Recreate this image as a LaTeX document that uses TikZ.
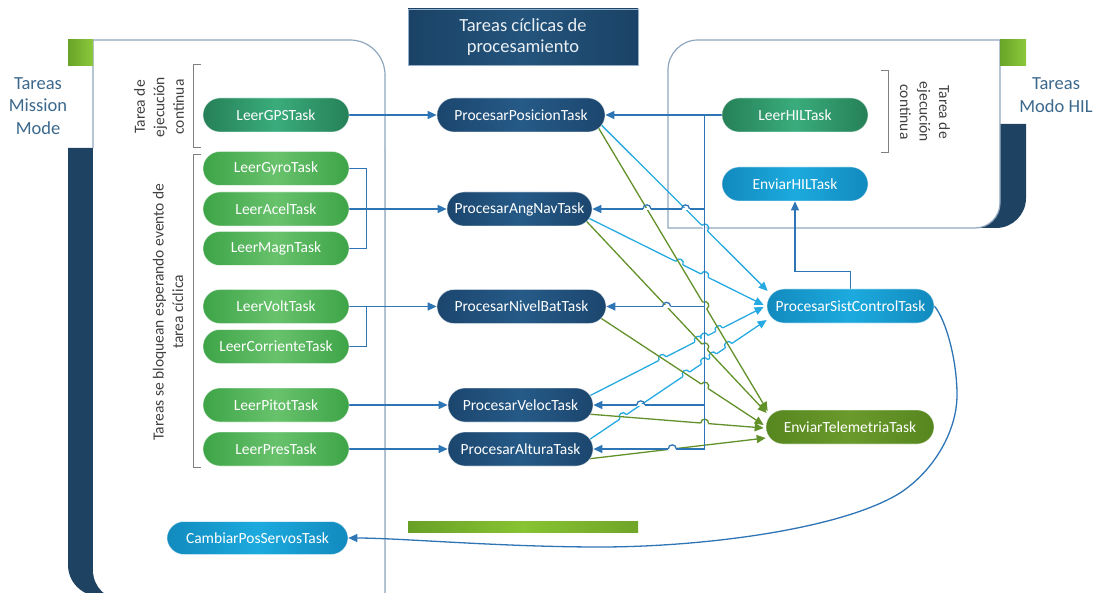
\documentclass[tikz,border=0pt]{standalone}
\usepackage{fontspec}
\setmainfont{Carlito}
\usetikzlibrary{calc,intersections,arrows.meta}

\definecolor{busblue}{RGB}{46,117,182}
\definecolor{cyanln}{RGB}{38,170,225}
\definecolor{greenln}{RGB}{98,145,42}
\definecolor{panelln}{RGB}{143,167,190}
\definecolor{bracketln}{RGB}{128,128,128}
\definecolor{labelblue}{RGB}{60,104,140}
\definecolor{labelgray}{RGB}{64,64,64}
\definecolor{lgA}{RGB}{62,164,72}
\definecolor{lgB}{RGB}{104,194,108}
\definecolor{tlA}{RGB}{38,128,88}
\definecolor{tlB}{RGB}{58,172,124}
\definecolor{dbA}{RGB}{27,70,110}
\definecolor{dbB}{RGB}{38,90,135}
\definecolor{lbA}{RGB}{18,138,190}
\definecolor{lbB}{RGB}{28,170,222}
\definecolor{olA}{RGB}{86,134,30}
\definecolor{olB}{RGB}{106,154,44}
\definecolor{bandfill}{RGB}{30,66,98}
\definecolor{sqA}{RGB}{104,164,38}
\definecolor{sqB}{RGB}{140,200,60}
\definecolor{titleA}{RGB}{26,66,102}
\definecolor{titleB}{RGB}{36,84,124}

\pgfdeclarelayer{panels}
\pgfdeclarelayer{wires}
\pgfsetlayers{panels,wires,main}

\tikzset{
  task/.style={rounded corners=17pt, minimum height=34pt, inner sep=0pt,
    text=white, draw=white, draw opacity=0.55, line width=0.7pt,
    font=\fontsize{15.5}{18}\selectfont},
  greentask/.style={task, left color=lgA, right color=lgA, middle color=lgB},
  tealtask/.style={task, left color=tlA, right color=tlA, middle color=tlB},
  navytask/.style={task, left color=dbA, right color=dbA, middle color=dbB},
  bluetask/.style={task, left color=lbA, right color=lbA, middle color=lbB},
  olivetask/.style={task, left color=olA, right color=olA, middle color=olB},
  titlebox/.style={minimum width=230pt, minimum height=56pt, inner sep=0pt,
    left color=titleA, right color=titleA, middle color=titleB,
    draw={rgb,255:red,150;green,175;blue,200}, line width=0.6pt,
    align=center, text={rgb,255:red,235;green,240;blue,245},
    font=\fontsize{18.5}{21}\selectfont},
  sidelabel/.style={align=center, text=labelblue, inner sep=0pt,
    font=\fontsize{18.5}{22.5}\selectfont},
  rotlabel/.style={align=center, text=labelgray, inner sep=0pt,
    font=\fontsize{15.5}{19.5}\selectfont},
  wire/.style={draw=busblue, line width=1.3pt},
  cyanwire/.style={draw=cyanln, line width=1.3pt},
  greenwire/.style={draw=greenln, line width=1.3pt},
  arr/.style={-{Triangle[length=9pt,width=8pt]}},
  bracket/.style={draw=bracketln, line width=1pt},
}

% line #2 jumps over line #1 with a small bridge; #2s/#2e are its end points
\newcommand\linehop[3]{%
  \path[name intersections={of=#1 and #2, name=hq, total=\hqt}] \pgfextra{\xdef\hqn{\hqt}};
  \ifnum\hqn>0
    \coordinate (hqa) at ($(hq-1)!4pt!(#2s)$);
    \coordinate (hqb) at ($(hq-1)!4pt!(#2e)$);
    \draw[white, line width=2.2pt] (hqa) -- (hqb);
    \draw[#3] (hqa) .. controls ($(hqa)!5.5pt!90:(hqb)$) and ($(hqb)!5.5pt!-90:(hqa)$) .. (hqb);
  \fi}

\begin{document}
\begin{tikzpicture}[x=1pt,y=-1pt]
\useasboundingbox (0,0) rectangle (1099,593);

% ---------- panels ----------
\begin{pgfonlayer}{panels}
\begin{scope}
\clip (0,0) rectangle (1099,593);
% mission mode panel
\fill[bandfill] (68,148) -- (68,565) .. controls (68,582.1) and (81.9,596) .. (99,596)
  -- (385,596) -- (385,148) -- cycle;
\fill[white] (93,40) -- (350,40) .. controls (369.3,40) and (385,55.7) .. (385,75)
  -- (385,600) -- (123,600) .. controls (106.4,600) and (93,586.6) .. (93,570) -- cycle;
\draw[panelln, line width=1.2pt] (93,148) -- (93,40) -- (350,40)
  .. controls (369.3,40) and (385,55.7) .. (385,75) -- (385,600);
\fill[left color=sqA, right color=sqB] (68,40) rectangle (93,66);
% HIL mode panel
\fill[bandfill] (960,124) -- (1026,124) -- (1026,198)
  .. controls (1026,214.6) and (1012.6,228) .. (996,228) -- (960,228) -- cycle;
\filldraw[fill=white, draw=panelln, line width=1.2pt] (668,228) -- (668,70)
  .. controls (668,53.4) and (681.4,40) .. (698,40) -- (1000,40) -- (1000,203)
  .. controls (1000,216.8) and (988.8,228) .. (975,228) -- cycle;
\fill[left color=sqA, right color=sqB] (1000,40) rectangle (1026,66);
% brackets
\draw[bracket] (201,65) -- (193,65) -- (193,148) -- (201,148);
\draw[bracket] (201,155) -- (193,155) -- (193,467) -- (201,467);
\draw[bracket] (881,71) -- (888,71) -- (888,153) -- (881,153);
\end{scope}
\end{pgfonlayer}

% ---------- titles and labels ----------
\node[titlebox] (title) at (523,37) {Tareas cíclicas de\\procesamiento};
\fill[left color={rgb,255:red,104;green,160;blue,38}, right color={rgb,255:red,112;green,165;blue,40},
  middle color={rgb,255:red,135;green,195;blue,50}] (408,521) rectangle (638,532);
\node[sidelabel] (lmission) at (38,106) {Tareas\\Mission\\Mode};
\node[sidelabel] (lhilmode) at (1056,95) {Tareas\\Modo HIL};
\node[rotlabel, rotate=90] (lcont) at (159,107) {Tarea de\\ejecución\\continua};
\node[rotlabel, rotate=90] (lcyc) at (168,312) {Tareas se bloquean esperando evento de\\tarea cíclica};
\node[rotlabel, rotate=-90] (rcont) at (925,112) {Tarea de\\ejecución\\continua};

% ---------- tasks ----------
\node[tealtask, minimum width=146pt]  (gps)   at (276,115)   {LeerGPSTask};
\node[greentask, minimum width=146pt] (gyro)  at (276,168.5) {LeerGyroTask};
\node[greentask, minimum width=146pt] (acel)  at (276,209)   {LeerAcelTask};
\node[greentask, minimum width=146pt] (magn)  at (276,248.5) {LeerMagnTask};
\node[greentask, minimum width=146pt] (volt)  at (276,306.5) {LeerVoltTask};
\node[greentask, minimum width=146pt] (corr)  at (276,346.5) {LeerCorrienteTask};
\node[greentask, minimum width=146pt] (pitot) at (276,405)   {LeerPitotTask};
\node[greentask, minimum width=146pt] (pres)  at (276,449)   {LeerPresTask};
\node[bluetask, minimum width=181pt, minimum height=33pt] (cps) at (257.5,538) {CambiarPosServosTask};

\node[navytask, minimum width=168pt] (pp)  at (521,115)   {ProcesarPosicionTask};
\node[navytask, minimum width=145pt] (pan) at (519.5,209) {ProcesarAngNavTask};
\node[navytask, minimum width=169pt] (pnb) at (521.5,306.5) {ProcesarNivelBatTask};
\node[navytask, minimum width=145pt] (pv)  at (520.5,405) {ProcesarVelocTask};
\node[navytask, minimum width=145pt] (pa)  at (520.5,449) {ProcesarAlturaTask};

\node[tealtask, minimum width=146pt]  (lhil) at (795,115)   {LeerHILTask};
\node[bluetask, minimum width=146pt]  (ehil) at (795,184)   {EnviarHILTask};
\node[bluetask, minimum width=167pt]  (sc)   at (850.5,306) {ProcesarSistControlTask};
\node[olivetask, minimum width=168pt] (tel)  at (850,427)   {EnviarTelemetriaTask};

% ---------- connectors ----------
\begin{pgfonlayer}{wires}
% sensor tasks feeding the cyclic tasks
\draw[wire, arr] (gps.east) -- (pp.west);
\draw[wire] (gyro.east) -- ++(17,0) |- (magn.east);
\draw[wire, arr] (acel.east) -- (pan.west);
\draw[wire, arr] (volt.east) -- (pnb.west);
\draw[wire] (corr.east) -- ++(17,0) |- (volt.east);
\draw[wire, arr] (pitot.east) -- (pv.west);
\draw[wire, arr] (pres.east) -- (pa.west);

% end points of the fan-out lines
\coordinate (c1s) at ($(pp.east)+(-4,10)$);   \coordinate (c1e) at ($(sc.west)+(1,-15)$);
\coordinate (c2s) at ($(pan.east)+(-6,8)$);   \coordinate (c2e) at ($(sc.west)+(-3,-1)$);
\coordinate (c3s) at ($(pv.east)+(-6,-8)$);   \coordinate (c3e) at ($(sc.west)+(-3,1)$);
\coordinate (c4s) at ($(pa.east)+(-6,-8)$);   \coordinate (c4e) at ($(sc.west)+(0,14)$);
\coordinate (g1s) at ($(pp.east)+(-8,11)$);   \coordinate (g1e) at ($(tel.west)+(2,-16)$);
\coordinate (g2s) at ($(pan.east)+(-8,10)$);  \coordinate (g2e) at ($(tel.west)+(1,-14)$);
\coordinate (g3s) at ($(pnb.east)+(-8,10)$);  \coordinate (g3e) at ($(tel.west)+(-2,-2)$);
\coordinate (g4s) at ($(pv.east)+(-6,9)$);    \coordinate (g4e) at ($(tel.west)+(-2,1)$);
\coordinate (g5s) at ($(pa.east)+(-6,10)$);   \coordinate (g5e) at ($(tel.west)+(0,11)$);
\foreach \q in {1,...,4} \path[name path global=c\q] (c\q s) -- (c\q e);
\foreach \q in {1,...,5} \path[name path global=g\q] (g\q s) -- (g\q e);

% HIL bus
\coordinate (bt) at ($(lhil.west)+(-17,0)$);
\coordinate (bb) at (bt |- pa.east);
\path[name path global=bus] (bt) -- (bb);
\coordinate (b1s) at (pan.east); \coordinate (b1e) at (bt |- pan.east);
\coordinate (b2s) at (pnb.east); \coordinate (b2e) at (bt |- pnb.east);
\coordinate (b3s) at (pv.east);  \coordinate (b3e) at (bt |- pv.east);
\coordinate (b4s) at (pa.east);  \coordinate (b4e) at (bt |- pa.east);
\foreach \q in {1,...,4} \path[name path global=b\q] (b\q s) -- (b\q e);

% lines into ProcesarSistControlTask
\foreach \q in {1,...,4} \draw[cyanwire, arr] (c\q s) -- (c\q e);
\foreach \q in {1,...,4}{\foreach \r in {1,...,5}{\linehop{g\r}{c\q}{cyanwire}}}
\foreach \q in {1,...,4}{\linehop{bus}{c\q}{cyanwire}}

% lines into EnviarTelemetriaTask
\foreach \q in {1,...,5} \draw[greenwire, arr] (g\q s) -- (g\q e);
\foreach \q in {1,...,4}{\linehop{bus}{g\q}{greenwire}}

% LeerHILTask feeding the cyclic tasks
\draw[wire, arr] (lhil.west) -- (pp.east);
\draw[wire] (bt) -- (bb);
\draw[wire, arr] (b1e) -- (pan.east);
\draw[wire, arr] (b2e) -- (pnb.east);
\draw[wire, arr] (b3e) -- (pv.east);
\draw[wire, arr] (b4e) -- (pa.east);
\foreach \q in {1,...,4}{%
  \foreach \r in {1,...,4}{\linehop{c\r}{b\q}{wire}}%
  \foreach \r in {1,...,5}{\linehop{g\r}{b\q}{wire}}}

% control outputs
\draw[wire, arr] (sc.north) -- ++(0,-17) -| (ehil.south);
\draw[wire, arr] (sc.east) .. controls (946,320) and (957,360) .. (957,395)
  .. controls (957,430) and (935,470) .. (900,493)
  .. controls (840,530) and (700,547) .. (600,547)
  .. controls (500,547) and (400,538) .. (cps.east);
\end{pgfonlayer}
\end{tikzpicture}
\end{document}
